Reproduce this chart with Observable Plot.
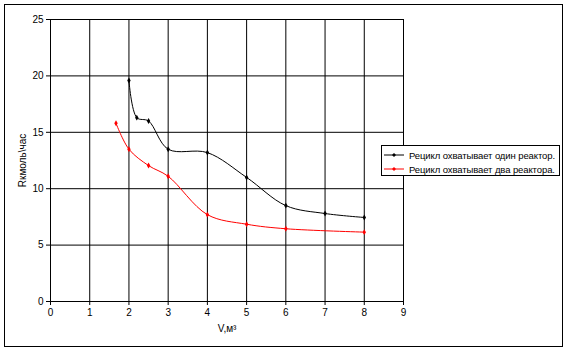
<!DOCTYPE html>
<html><head><meta charset="utf-8">
<script src="https://cdn.jsdelivr.net/npm/d3@7"></script>
<script src="https://cdn.jsdelivr.net/npm/@observablehq/plot@0.6"></script>
<style>
body{margin:0;background:#fff;}
#wrap{position:relative;width:567px;height:351px;font-family:"Liberation Sans",Arial,sans-serif;}
#frame{position:absolute;left:4px;top:4px;width:559px;height:343px;border:1px solid #000;box-sizing:border-box;pointer-events:none;}
#legend{position:absolute;left:381px;top:145px;width:179px;height:31px;border:1px solid #000;box-sizing:border-box;background:#fff;font-size:9.5px;}
.row{position:absolute;left:0;height:14px;display:flex;align-items:center;white-space:nowrap;}
.row svg{margin-left:2px;margin-right:5px;flex:none;}
</style></head>
<body>
<div id="wrap"><div id="frame"></div><div id="legend"></div></div>
<script>
const seriesNames = ["Рецикл охватывает один реактор.", "Рецикл охватывает два реактора."];
const seriesColors = ["#000000", "#ff0000"];
const xOne = [2, 2.2, 2.5, 3, 4, 5, 6, 7, 8];
const yOne = [19.6, 16.3, 16.0, 13.5, 13.2, 11.0, 8.5, 7.8, 7.45];
const xTwo = [1.67, 2, 2.5, 3, 4, 5, 6, 8];
const yTwo = [15.8, 13.5, 12.05, 11.1, 7.7, 6.85, 6.45, 6.15];
const xTicks = [0,1,2,3,4,5,6,7,8,9];
const yTicks = [0,5,10,15,20,25];
const xLabel = "V,м³";
const yLabel = "Rкмоль\\час";

const data = [
  ...xOne.map((x,i)=>({x, y:yOne[i], s:seriesNames[0]})),
  ...xTwo.map((x,i)=>({x, y:yTwo[i], s:seriesNames[1]}))
];

const chart = Plot.plot({
  width:567, height:351,
  marginLeft:50, marginRight:164, marginTop:19, marginBottom:50,
  style:{fontFamily:"'Liberation Sans', Arial, sans-serif", fontSize:"10px", background:"transparent", color:"#000"},
  x:{domain:[0,9]},
  y:{domain:[0,25]},
  color:{domain:seriesNames, range:seriesColors},
  marks:[
    Plot.gridX(xTicks,{stroke:"#000", strokeOpacity:1}),
    Plot.gridY(yTicks,{stroke:"#000", strokeOpacity:1}),
    Plot.ruleX([0],{stroke:"#000"}),
    Plot.ruleY([0],{stroke:"#000"}),
    Plot.axisX({ticks:xTicks, tickSize:4, tickPadding:3, label:xLabel, labelAnchor:"center", labelOffset:30, labelArrow:"none"}),
    Plot.axisY({ticks:yTicks, tickSize:4, tickPadding:3, label:yLabel, labelAnchor:"center", labelOffset:32, labelArrow:"none"}),
    Plot.line(data,{x:"x", y:"y", z:"s", stroke:"s", curve:"catmull-rom", strokeWidth:1}),
    Plot.dot(data,{x:"x", y:"y", fill:"s", symbol:"diamond", r:1.8, stroke:null})
  ]
});
document.getElementById("wrap").prepend(chart);

const leg = document.getElementById("legend");
seriesNames.forEach((n,i)=>{
  const row = document.createElement("div");
  row.className="row";
  row.style.top = (2 + i*14) + "px";
  row.innerHTML = `<svg width="20" height="8"><line x1="0" x2="20" y1="4" y2="4" stroke="${seriesColors[i]}"/><path d="M10,2L12,4L10,6L8,4Z" fill="${seriesColors[i]}"/></svg><span style="color:#000;letter-spacing:-0.1px">${n}</span>`;
  leg.appendChild(row);
});
</script>
</body></html>
